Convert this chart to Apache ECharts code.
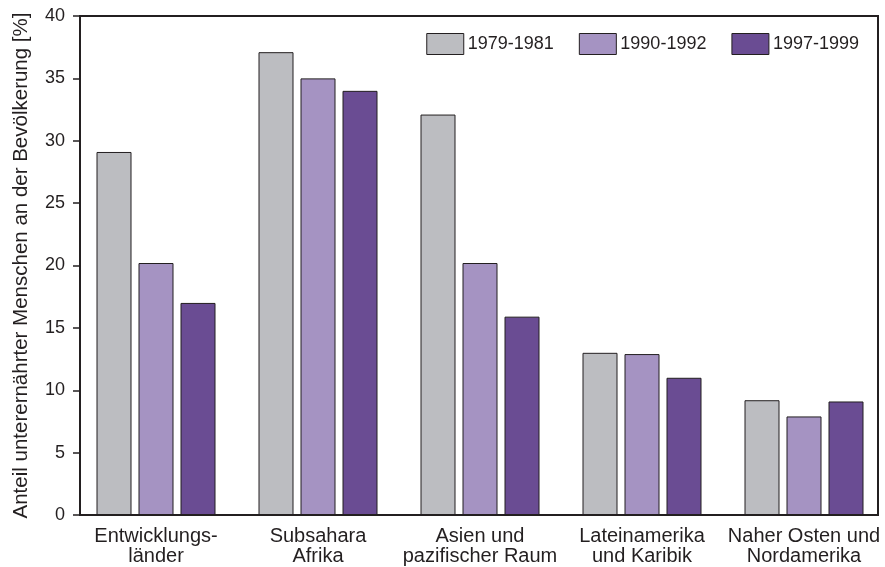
<!DOCTYPE html>
<html>
<head>
<meta charset="utf-8">
<script src="https://cdn.jsdelivr.net/npm/echarts@6/dist/echarts.min.js"></script>
<style>
  html, body { margin: 0; padding: 0; background: #fff; }
  #chart { width: 885px; height: 567px; }
</style>
</head>
<body>
<div id="chart"></div>
<script>
var regions = ['Entwicklungs-\nländer', 'Subsahara\nAfrika', 'Asien und\npazifischer Raum', 'Lateinamerika\nund Karibik', 'Naher Osten und\nNordamerika'];
var periods = ['1979-1981', '1990-1992', '1997-1999'];
var v1979 = [29.1, 37.1, 32.1, 13.0, 9.2];
var v1990 = [20.2, 35.0, 20.2, 12.9, 7.9];
var v1997 = [17.0, 34.0, 15.9, 11.0, 9.1];
var colors = ['#bcbdc1', '#a593c2', '#6a4c93'];

var font = 'Liberation Sans, Arial, Helvetica, sans-serif';
var ink = '#231f20';

function bar(name, data, color) {
    return {
        name: name,
        type: 'bar',
        xAxisIndex: 1,
        yAxisIndex: 1,
        data: data,
        barWidth: 35,
        barGap: '20%',
        itemStyle: { color: color, borderColor: ink, borderWidth: 1 }
    };
}

var myChart = echarts.init(document.getElementById('chart'));
var option = {
    animation: false,
    textStyle: { fontFamily: font },
    grid: [
        // frame + y axis
        { left: 80, right: 7, top: 16, bottom: 52, show: true, borderColor: ink, borderWidth: 2, backgroundColor: 'transparent' },
        // bars (slightly wider band than the frame, like the original)
        { left: 75, right: -2, top: 16, bottom: 52 }
    ],
    legend: {
        data: periods,
        top: 28,
        right: 21,
        itemWidth: 37,
        itemHeight: 21,
        itemGap: 25,
        icon: 'rect',
        textStyle: { fontSize: 18, color: ink, fontFamily: font, padding: [0, 0, 0, -1] },
        itemStyle: { borderColor: ink, borderWidth: 1 }
    },
    xAxis: [
        {
            type: 'category',
            gridIndex: 0,
            data: regions,
            axisLine: { lineStyle: { color: ink, width: 2 } },
            axisTick: { show: false },
            axisLabel: { show: false }
        },
        {
            type: 'category',
            gridIndex: 1,
            data: regions,
            axisLine: { show: false },
            axisTick: { show: false },
            axisLabel: { fontSize: 20, color: ink, lineHeight: 20.5, margin: 11, interval: 0 }
        }
    ],
    yAxis: [
        {
            type: 'value',
            gridIndex: 0,
            min: 0, max: 40, interval: 5,
            name: 'Anteil unterernährter Menschen an der Bevölkerung [%]',
            nameLocation: 'middle',
            nameGap: 48,
            nameTextStyle: { fontSize: 20.5, color: ink },
            axisLine: { show: true, lineStyle: { color: ink, width: 2 } },
            axisTick: { show: true, length: 7, lineStyle: { color: ink, width: 1.5 } },
            axisLabel: { fontSize: 18, color: ink, margin: 15 },
            splitLine: { show: false }
        },
        {
            type: 'value',
            gridIndex: 1,
            min: 0, max: 40, interval: 5,
            show: false
        }
    ],
    series: [
        bar(periods[0], v1979, colors[0]),
        bar(periods[1], v1990, colors[1]),
        bar(periods[2], v1997, colors[2])
    ]
};
myChart.setOption(option);
</script>
</body>
</html>
